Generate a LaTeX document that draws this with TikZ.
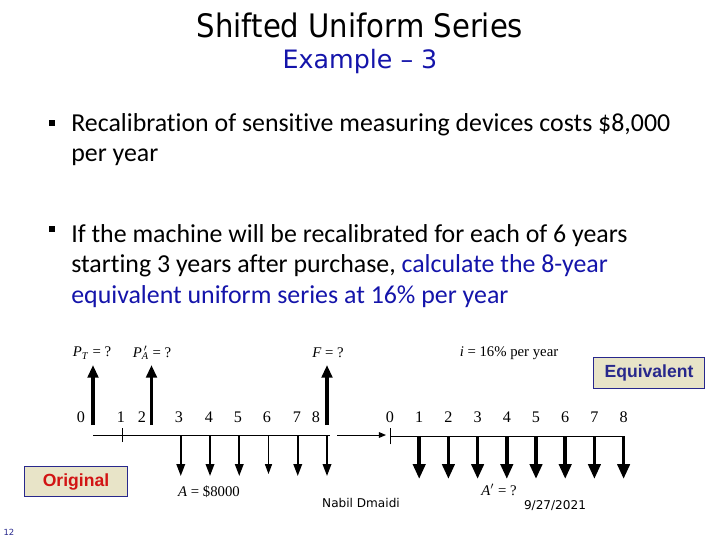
\documentclass[tikz,border=0pt]{standalone}
\usepackage{fontspec}
\setmainfont{Liberation Serif}
\newfontfamily\titlefont[FakeStretch=0.9]{DejaVu Sans}
\newfontfamily\subfont{DejaVu Sans}
\newfontfamily\bodyfont[Ligatures=NoCommon]{Carlito}
\newfontfamily\tagfont{Liberation Sans}
\usepackage{xcolor}
\usetikzlibrary{arrows.meta}

\definecolor{slideblue}{RGB}{20,20,170}
\definecolor{tagfill}{RGB}{232,228,200}
\definecolor{tagline}{RGB}{40,40,140}
\definecolor{tagred}{RGB}{210,20,20}

\tikzset{
  line/.style={line width=0.7pt},
  upflow/.style={line width=2.8pt,-{Triangle[length=9pt,width=7.5pt]}},
  downflow/.style={line width=1.4pt,-{Triangle[length=8.5pt,width=6pt]}},
  thinflow/.style={line width=0.8pt,-{Triangle[length=7pt,width=5pt]}},
  eqflow/.style={line width=2.6pt,-{Triangle[length=10.5pt,width=8.5pt]}},
  num/.style={font=\fontsize{11.5}{13}\selectfont,inner sep=0pt},
  lab/.style={font=\fontsize{10.5}{12}\selectfont,inner sep=0pt},
  body/.style={anchor=base west,inner sep=0pt,font=\bodyfont\fontsize{18.4}{21}\selectfont},
  bullet/.style={fill=black,minimum size=4.3pt,inner sep=0pt},
  tagbox/.style={draw=tagline,fill=tagfill,line width=0.8pt,inner sep=0pt,
    minimum height=21.5pt,font=\tagfont\bfseries\fontsize{12.5}{14}\selectfont},
  foot/.style={font=\subfont\fontsize{8.6}{10}\selectfont,inner sep=0pt}
}

\begin{document}
\begin{tikzpicture}[x=0.025cm,y=-0.025cm]
\useasboundingbox (0,0) rectangle (720,540);

% heading
\node[anchor=base,font=\titlefont\fontsize{23}{26}\selectfont] (title) at (360,37) {Shifted Uniform Series};
\node[anchor=base,text=slideblue,font=\subfont\fontsize{18}{20}\selectfont] (example) at (360,68) {Example \textendash{} 3};

% bullets
\node[bullet] (bul1) at (52,123) {};
\node[body] (b1a) at (71,131) {Recalibration of sensitive measuring devices costs \$8,000};
\node[body] (b1b) at (71,161) {per year};

\node[bullet] (bul2) at (52,229) {};
\node[body] (b2a) at (71,242) {If the machine will be recalibrated for each of 6 years};
\node[body] (b2b) at (71,272) {starting 3 years after purchase, \textcolor{slideblue}{calculate the 8-year}};
\node[body,text=slideblue] (b2c) at (71,303) {equivalent uniform series at 16\% per year};

% original cash flow
\coordinate (o0) at (93,435);
\coordinate (oend) at (330,435);
\draw[line] (o0) -- (oend);
\foreach \i in {0,...,8}
  \coordinate (o\i) at (93+29.25*\i,435);
\foreach \i/\x in {0/81,1/121,2/142,3/179,4/209,5/238,6/267,7/297,8/316}
  \node[num] (on\i) at (\x,417) {\i};
\draw[line] ([yshift=-5]o1) -- ([yshift=5]o1);

\foreach \i in {0,2,8} {
  \coordinate (otop\i) at (93+29.25*\i,365);
  \draw[upflow] ([yshift=7]o\i) -- (otop\i);
}
\foreach \i in {3,4,5,7,8} {
  \coordinate (obot\i) at (93+29.25*\i,476);
  \draw[downflow] (o\i) -- (obot\i);
}
\coordinate (obot6) at (93+29.25*6,474);
\draw[thinflow] (o6) -- (obot6);

\node[lab] (pt) at (92,353) {\textit{P}\textsubscript{\textit{T}} = ?};
\node[lab] (pa) at (152,353) {\textit{P}\rlap{\textsuperscript{\,$\prime$}}\textsubscript{\textit{A}} = ?};
\node[lab] (ff) at (328,353) {\textit{F} = ?};
\node[lab] (aa) at (209,492) {\textit{A} = \$8000};

% link to equivalent series
\coordinate (lnk1) at (337,435);
\coordinate (lnk2) at (386,435);
\draw[line,-{Triangle[length=5pt,width=4pt]}] (lnk1) -- (lnk2);

% equivalent cash flow
\coordinate (e0) at (390,436);
\coordinate (eend) at (625,436);
\draw[line] (e0) -- (eend);
\draw[line] ([yshift=-6]e0) -- ([yshift=6]e0);
\foreach \i in {0,...,8}
  \node[num] (en\i) at (390+29.2*\i,417) {\i};
\foreach \i in {1,...,8} {
  \coordinate (e\i) at (390+29.2*\i,436);
  \coordinate (ebot\i) at (390+29.2*\i,479);
  \draw[eqflow] (e\i) -- (ebot\i);
}
\node[lab] (ii) at (509,353) {\textit{i} = 16\% per year};
\node[lab] (ae) at (499,490) {\textit{A}\textsuperscript{$\prime$} = ?};

% tags
\node[tagbox,minimum width=79.4pt,text=tagline] (equiv) at (649,373) {Equivalent};
\node[tagbox,minimum width=73.7pt,text=tagred] (orig) at (76,481.5) {Original};

% footer
\node[foot] (author) at (361,503) {Nabil Dmaidi};
\node[foot] (date) at (555,506) {9/27/2021};
\node[foot,font=\subfont\fontsize{6}{7}\selectfont,text=tagline] (page) at (9,532) {12};

\end{tikzpicture}
\end{document}
